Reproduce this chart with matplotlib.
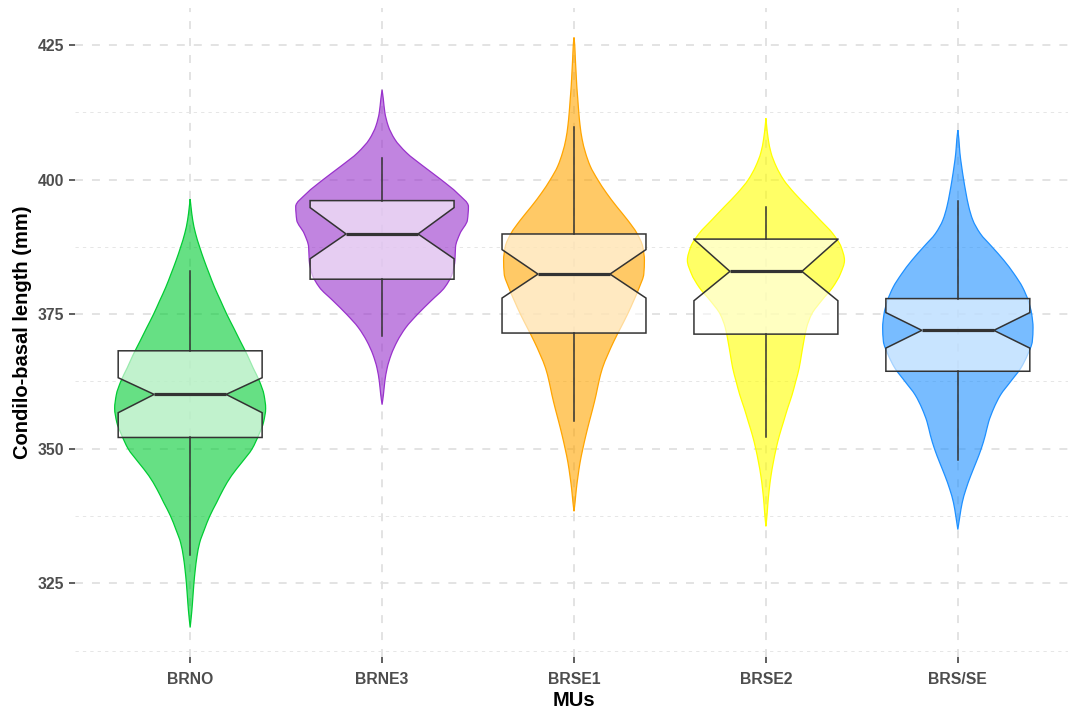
import numpy as np
import matplotlib
matplotlib.use("Agg")
import matplotlib.pyplot as plt
from matplotlib.colors import to_rgba
from matplotlib.path import Path
from matplotlib.patches import PathPatch

plt.rcParams["font.family"] = ["Liberation Sans", "DejaVu Sans"]

groups = ["BRNO", "BRNE3", "BRSE1", "BRSE2", "BRS/SE"]
colors = ["#00CC33", "#9932CC", "#FFA500", "#FFFF00", "#1E90FF"]

# Density profiles: condylobasal length (mm) and relative density
brno_y = [316.8, 320, 322.5, 325, 327.5, 330, 332.5, 335, 337.5, 340, 342.5, 345,
          347.5, 350, 352.5, 355, 357.5, 360, 362.5, 365, 367.5, 370, 372.5, 375,
          377.5, 380, 382.5, 385, 387.5, 390, 392.5, 395, 396.4]
brno_d = [0, 1.7, 2.7, 3.7, 5, 6.7, 9.3, 14, 19.3, 26, 32.7, 40.7,
          51, 61, 67.3, 72.3, 74.3, 72.7, 68.3, 62, 56, 49.3, 42.7, 36,
          30, 24, 18.8, 13.8, 9.3, 5.3, 2.5, 0.8, 0]

brne3_y = [358.2, 360, 362.5, 365, 367.5, 370, 372.5, 375, 377.5, 380, 382.5, 385,
           387.5, 390, 392.5, 395, 397.5, 400, 402.5, 405, 407.5, 410, 412.5, 415, 416.7]
brne3_d = [0, 1.3, 2.7, 5, 9, 15, 23.3, 35, 48.3, 61.7, 69, 71.7,
           72.3, 76.7, 84, 85, 74, 58, 40.5, 24, 12.5, 6, 2.7, 1.2, 0]

brse1_y = [338.4, 340, 342.5, 345, 347.5, 350, 352.5, 355, 357.5, 360, 362.5, 365,
           367.5, 370, 372.5, 375, 377.5, 380, 382.5, 385, 387.5, 390, 392.5, 395,
           397.5, 400, 402.5, 405, 407.5, 410, 412.5, 415, 417.5, 420, 422.5, 425, 426.4]
brse1_d = [0, 1, 2.3, 4, 6, 8.7, 11.7, 15, 18.5, 21.7, 24.5, 28,
           33.3, 39.3, 46, 52.7, 58.7, 64.3, 68.7, 69.3, 67.7, 62, 52.7, 42,
           32, 23.3, 16, 11.3, 8, 6, 4.7, 3.7, 2.7, 2, 1.3, 0.7, 0]

brse2_y = [335.6, 337.5, 340, 342.5, 345, 347.5, 350, 352.5, 355, 357.5, 360, 362.5,
           365, 367.5, 370, 372.5, 375, 377.5, 380, 382.5, 385, 387.5, 390, 392.5,
           395, 397.5, 400, 402.5, 405, 407.5, 410, 411.4]
brse2_d = [0, 1, 2, 3.3, 5, 7.3, 10, 13.3, 17.3, 21.3, 25.7, 29.3,
           32.7, 35, 37.3, 40, 45, 54.7, 65.7, 73.3, 77.3, 74, 65.7, 53.3,
           40.7, 28, 17.3, 10, 5, 2.3, 0.7, 0]

brsse_y = [335.0, 337.5, 340, 342.5, 345, 347.5, 350, 352.5, 355, 357.5, 360, 362.5,
           365, 367.5, 370, 372.5, 375, 377.5, 380, 382.5, 385, 387.5, 390, 392.5,
           395, 397.5, 400, 402.5, 405, 407.5, 409.2]
brsse_d = [0, 2, 4.3, 8, 12.7, 18, 23, 27, 30.3, 35.3, 42, 52,
           62, 68.7, 73.3, 74, 72.7, 69.3, 63.7, 55.3, 45.3, 33.7, 22, 14.7,
           10.7, 8, 5.7, 3.7, 2, 1, 0]

profiles_y = [brno_y, brne3_y, brse1_y, brse2_y, brsse_y]
profiles_d = [brno_d, brne3_d, brse1_d, brse2_d, brsse_d]

# Box-plot statistics (mm)
q1 = [352.1, 381.5, 371.5, 371.3, 364.4]
med = [360.1, 389.9, 382.45, 382.95, 372.0]
q3 = [368.2, 396.1, 389.9, 388.95, 377.9]
whislo = [330.2, 371.0, 355.1, 352.1, 348.0]
whishi = [383.1, 404.0, 409.85, 394.9, 396.1]
notch_lo = [356.7, 385.3, 378.0, 377.5, 368.7]
notch_hi = [363.2, 394.8, 387.0, 388.9, 375.3]

major_ticks = [325, 350, 375, 400, 425]
minor_ticks = [312.5, 337.5, 362.5, 387.5, 412.5]


def monotone_slopes(y, w):
    """Fritsch-Carlson tangents dw/dy for a shape-preserving cubic outline."""
    h = np.diff(y)
    delta = np.diff(w) / h
    m = np.zeros_like(w)
    m[0], m[-1] = delta[0], delta[-1]
    for k in range(1, len(w) - 1):
        if delta[k - 1] * delta[k] > 0:
            w1 = 2 * h[k] + h[k - 1]
            w2 = h[k] + 2 * h[k - 1]
            m[k] = (w1 + w2) / (w1 / delta[k - 1] + w2 / delta[k])
    return m


def violin_path(pos, y, w):
    """Closed path of a violin: right side upward, left side downward,
    drawn with cubic Bezier segments through the profile points."""
    m = monotone_slopes(y, w)
    verts = [(pos + w[0], y[0])]
    codes = [Path.MOVETO]
    for i in range(len(y) - 1):
        h = (y[i + 1] - y[i]) / 3
        verts += [(pos + w[i] + m[i] * h, y[i] + h),
                  (pos + w[i + 1] - m[i + 1] * h, y[i + 1] - h),
                  (pos + w[i + 1], y[i + 1])]
        codes += [Path.CURVE4] * 3
    for i in range(len(y) - 1, 0, -1):
        h = (y[i] - y[i - 1]) / 3
        verts += [(pos - (w[i] - m[i] * h), y[i] - h),
                  (pos - (w[i - 1] + m[i - 1] * h), y[i - 1] + h),
                  (pos - w[i - 1], y[i - 1])]
        codes += [Path.CURVE4] * 3
    verts.append(verts[0])
    codes.append(Path.CLOSEPOLY)
    return Path(verts, codes)


fig = plt.figure(figsize=(10.68, 7.09), dpi=100)
ax = fig.add_axes([75 / 1068, 52 / 709, 998 / 1068, 649 / 709])

positions = np.arange(1, len(groups) + 1)

# Violins scaled by area: half-width proportional to density, widest = 0.45
global_peak = max(max(d) for d in profiles_d)
for pos, y, d, c in zip(positions, profiles_y, profiles_d, colors):
    y = np.array(y, float)
    w = 0.45 * np.array(d, float) / global_peak
    patch = PathPatch(violin_path(pos, y, w), facecolor=to_rgba(c, 0.6),
                      edgecolor=c, linewidth=0.9, zorder=2)
    ax.add_patch(patch)

# Notched box plots
bstats = []
for i in range(len(groups)):
    bstats.append(dict(med=med[i], q1=q1[i], q3=q3[i], whislo=whislo[i],
                       whishi=whishi[i], cilo=notch_lo[i], cihi=notch_hi[i],
                       fliers=[]))
ax.bxp(bstats, positions=positions, widths=0.75, shownotches=True,
       showcaps=False, showfliers=False, patch_artist=True,
       boxprops=dict(facecolor=(1, 1, 1, 0.6), edgecolor="#333333", linewidth=1.1),
       whiskerprops=dict(color="#333333", linewidth=1.1),
       medianprops=dict(color="#333333", linewidth=2.3, solid_capstyle="butt"),
       zorder=3)

# Axis limits with 5% expansion around the data range
all_y = np.concatenate([np.array(y, float) for y in profiles_y])
lo, hi = all_y.min(), all_y.max()
pad = 0.05 * (hi - lo)
ax.set_ylim(lo - pad, hi + pad)
ax.set_xlim(0.4, len(groups) + 0.6)

ax.set_xticks(positions)
ax.set_xticklabels(groups)
ax.set_yticks(major_ticks)
ax.set_yticks(minor_ticks, minor=True)

ax.grid(which="major", axis="both", color="#E0E0E0", linewidth=1.3,
        linestyle=(0, (4.4, 5.0)))
ax.grid(which="minor", axis="y", color="#E6E6E6", linewidth=0.7,
        linestyle=(0, (3.4, 4.2)))
ax.set_axisbelow(True)
for s in ax.spines.values():
    s.set_visible(False)

ax.tick_params(which="major", length=4.5, width=1.1, color="#333333",
               labelcolor="#4D4D4D", labelsize=11.3)
ax.tick_params(axis="x", which="major", pad=6.5)
ax.tick_params(axis="y", which="major", pad=3)
ax.tick_params(which="minor", length=0)
for lab in ax.get_xticklabels() + ax.get_yticklabels():
    lab.set_fontweight("bold")

ax.set_xlabel("MUs", fontsize=14.5, fontweight="bold", color="black", labelpad=2.5)
ax.set_ylabel("Condilo-basal length (mm)", fontsize=14.5, fontweight="bold",
              color="black", ha="center", va="center")
ax.yaxis.set_label_coords(-0.053, 0.5)

fig.savefig("out.png", dpi=100, facecolor="white")
